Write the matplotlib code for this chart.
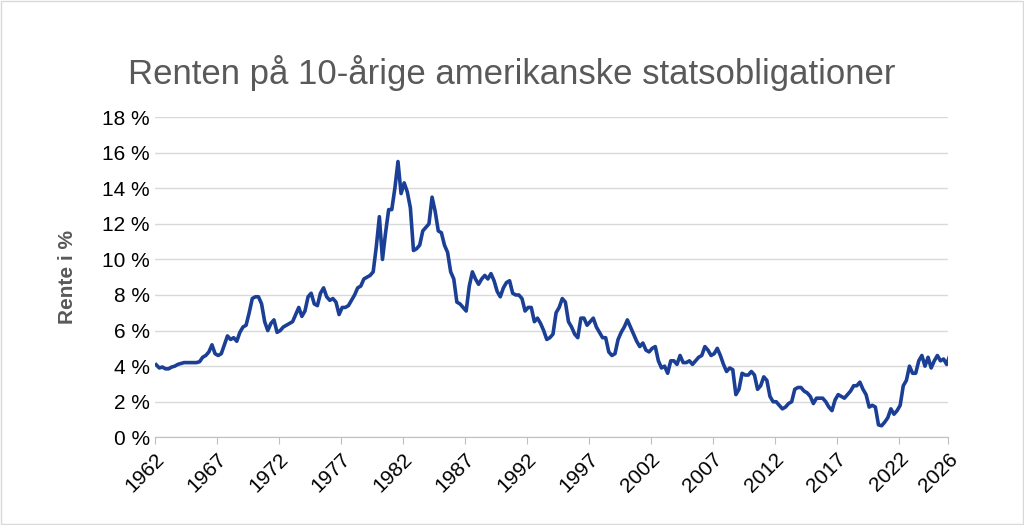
import numpy as np
import matplotlib.pyplot as plt

# quarterly values of 10-year US treasury yield
start_year = 1962
rente = [
    4.08, 3.90, 3.95, 3.85,  3.85, 3.95, 4.00, 4.10,  4.15, 4.20, 4.20, 4.20,
    4.20, 4.20, 4.25, 4.50,  4.60, 4.80, 5.20, 4.70,  4.60, 4.70, 5.20, 5.70,
    5.50, 5.60, 5.40, 5.90,  6.20, 6.30, 7.00, 7.80,  7.90, 7.90, 7.50, 6.50,
    6.00, 6.40, 6.60, 5.90,  6.00, 6.20, 6.30, 6.40,  6.50, 6.90, 7.30, 6.80,
    7.10, 7.90, 8.10, 7.50,  7.40, 8.10, 8.40, 7.90,  7.70, 7.80, 7.60, 6.90,
    7.30, 7.30, 7.40, 7.70,  8.00, 8.40, 8.50, 8.90,  9.00, 9.10, 9.30, 10.7,
    12.4, 10.0, 11.5, 12.8,  12.8, 14.0, 15.5, 13.7,  14.3, 13.8, 12.9, 10.5,
    10.6, 10.8, 11.6, 11.8,  12.0, 13.5, 12.7, 11.6,  11.5, 10.8, 10.4, 9.30,
    8.90, 7.60, 7.50, 7.30,  7.10, 8.50, 9.30, 8.90,  8.60, 8.90, 9.10, 8.90,
    9.20, 8.80, 8.20, 7.90,  8.40, 8.70, 8.80, 8.10,  8.00, 8.00, 7.80, 7.10,
    7.30, 7.30, 6.50, 6.70,  6.40, 6.00, 5.50, 5.60,  5.80, 7.00, 7.30, 7.80,
    7.60, 6.50, 6.20, 5.80,  5.60, 6.70, 6.70, 6.30,  6.50, 6.70, 6.20, 5.90,
    5.60, 5.60, 4.80, 4.60,  4.70, 5.50, 5.90, 6.20,  6.60, 6.20, 5.80, 5.40,
    5.10, 5.30, 4.90, 4.80,  5.00, 5.10, 4.30, 3.90,  4.00, 3.60, 4.30, 4.30,
    4.10, 4.60, 4.20, 4.20,  4.30, 4.10, 4.30, 4.50,  4.60, 5.10, 4.90, 4.60,
    4.70, 5.00, 4.60, 4.10,  3.70, 3.90, 3.80, 2.40,  2.70, 3.60, 3.50, 3.50,
    3.70, 3.50, 2.70, 2.90,  3.40, 3.20, 2.30, 2.00,  2.00, 1.80, 1.60, 1.70,
    1.90, 2.00, 2.70, 2.80,  2.80, 2.60, 2.50, 2.30,  1.90, 2.20, 2.20, 2.20,
    2.00, 1.70, 1.50, 2.10,  2.40, 2.30, 2.20, 2.40,  2.60, 2.90, 2.90, 3.10,
    2.70, 2.40, 1.70, 1.80,  1.70, 0.70, 0.65, 0.85,  1.10, 1.60, 1.30, 1.50,
    1.80, 2.90, 3.20, 4.00,  3.60, 3.60, 4.30, 4.60,  4.00, 4.50, 3.90, 4.30,
    4.60, 4.30, 4.40, 4.10,  4.60,
]
years = start_year + np.arange(len(rente)) * 0.25 + 0.125
tick_years = [1962, 1967, 1972, 1977, 1982, 1987, 1992, 1997, 2002, 2007, 2012, 2017, 2022, 2026]

plt.rcParams['font.family'] = ['Liberation Sans', 'DejaVu Sans']
fig = plt.figure(figsize=(10.24, 5.25), dpi=100)
ax = fig.add_axes([0.151, 0.167, 0.775, 0.610])

ax.plot(years, rente, color='#1b3f95', linewidth=2.6)
ax.set_xlim(1962, 2026)
ax.set_ylim(0, 18)
ax.set_yticks(range(0, 19, 2))
ax.set_yticklabels([f'{v} %' for v in range(0, 19, 2)], fontsize=15)
ax.set_xticks(tick_years)
ax.set_xticklabels([str(y) for y in tick_years], rotation=45, ha='right',
                   rotation_mode='anchor', fontsize=15)
ax.grid(axis='y', color='#d9d9d9', linewidth=1)
ax.set_axisbelow(True)
for s in ['top', 'right', 'left']:
    ax.spines[s].set_visible(False)
ax.spines['bottom'].set_color('#bfbfbf')
ax.tick_params(axis='y', length=0)
ax.tick_params(axis='x', color='#bfbfbf', length=5)
ax.set_ylabel('Rente i %', fontsize=15, fontweight='bold', color='#595959', labelpad=18)

fig.suptitle('Renten på 10-årige amerikanske statsobligationer', y=0.895,
             fontsize=25, color='#595959')
fig.patches.append(plt.Rectangle((0.001, 0.002), 0.998, 0.996, transform=fig.transFigure,
                                 fill=False, edgecolor='#d9d9d9', linewidth=1))

plt.savefig('out.png', dpi=100)
